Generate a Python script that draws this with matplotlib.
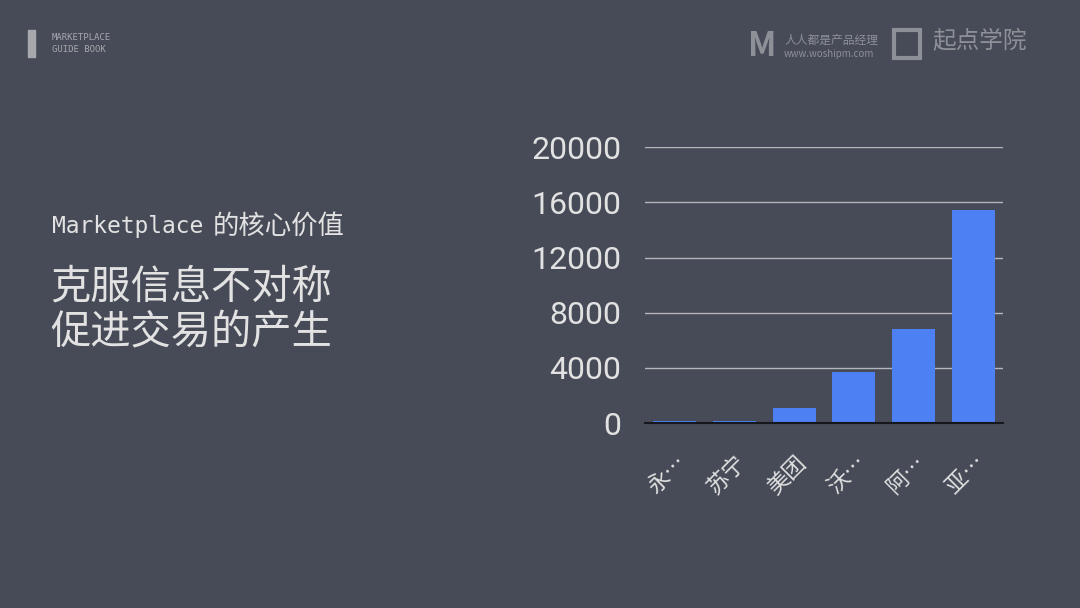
import matplotlib.pyplot as plt
from matplotlib.patches import Rectangle

plt.rcParams['font.family'] = ['Noto Sans CJK SC', 'DejaVu Sans']

platforms = ['永…', '苏宁', '美团', '沃…', '阿…', '亚…']
values = [180, 180, 1080, 3730, 6820, 15470]
yticks = [0, 4000, 8000, 12000, 16000, 20000]

bg = '#474b57'
bar_color = '#4d80f3'
text_color = '#e2e2e2'

fig = plt.figure(figsize=(10.8, 6.08), dpi=100, facecolor=bg)
ax = fig.add_axes([0.597, 0.304, 0.332, 0.454])
ax.set_facecolor('none')

ax.bar(range(len(platforms)), values, width=0.72, color=bar_color, zorder=2)
ax.set_xlim(-0.5, len(platforms) - 0.5)
ax.set_ylim(0, 20000)
ax.set_yticks(yticks)
ax.set_yticklabels([str(v) for v in yticks], fontsize=23, color=text_color,
                   family=['Roboto', 'DejaVu Sans'])
ax.set_xticks(range(len(platforms)))
ax.set_xticklabels(platforms, rotation=45, ha='right', va='top', rotation_mode='anchor',
                   fontsize=16, color=text_color)
ax.tick_params(axis='y', length=0, pad=17)
ax.tick_params(axis='x', length=0, pad=20)
ax.grid(axis='y', color='#b4b6bb', lw=1, zorder=1)
for s in ['top', 'right', 'left']:
    ax.spines[s].set_visible(False)
ax.spines['bottom'].set_color('#15171c')
ax.spines['bottom'].set_linewidth(1.5)
ax.spines['bottom'].set_zorder(3)

# left side headline text
fig.text(52 / 1080, 1 - 226 / 608, 'Marketplace', fontsize=16.5, color=text_color,
         family='DejaVu Sans Mono', va='center')
fig.text(213 / 1080, 1 - 226 / 608, '的核心价值', fontsize=19, color=text_color, va='center')
fig.text(50 / 1080, 1 - 287 / 608, '克服信息不对称', fontsize=29, color=text_color, va='center')
fig.text(50 / 1080, 1 - 333 / 608, '促进交易的产生', fontsize=29, color=text_color, va='center')

# top-left tag
fig.patches.append(Rectangle((28 / 1080, 1 - 57 / 608), 7 / 1080, 27 / 608,
                             transform=fig.transFigure, color='#a6a8ad'))
fig.text(52 / 1080, 1 - 37 / 608, 'MARKETPLACE', fontsize=6.5, color='#a6a8ad',
         family='DejaVu Sans Mono', va='center')
fig.text(52 / 1080, 1 - 50 / 608, 'GUIDE BOOK', fontsize=6.5, color='#a6a8ad',
         family='DejaVu Sans Mono', va='center')

# top-right logos
logo = '#8d9097'
fig.text(748 / 1080, 1 - 46 / 608, 'M', fontsize=24, fontweight='bold', color=logo, va='center')
fig.text(784 / 1080, 1 - 40 / 608, '人人都是产品经理', fontsize=8.5, color=logo, va='center')
fig.text(784 / 1080, 1 - 54 / 608, 'www.woshipm.com', fontsize=7, color=logo, va='center')
fig.patches.append(Rectangle((894 / 1080, 1 - 58 / 608), 26 / 1080, 28 / 608,
                             transform=fig.transFigure, fill=False, ec=logo, lw=3))
fig.text(932 / 1080, 1 - 41 / 608, '起点学院', fontsize=17, color=logo, va='center')

plt.savefig('out.png', dpi=100, facecolor=bg)
